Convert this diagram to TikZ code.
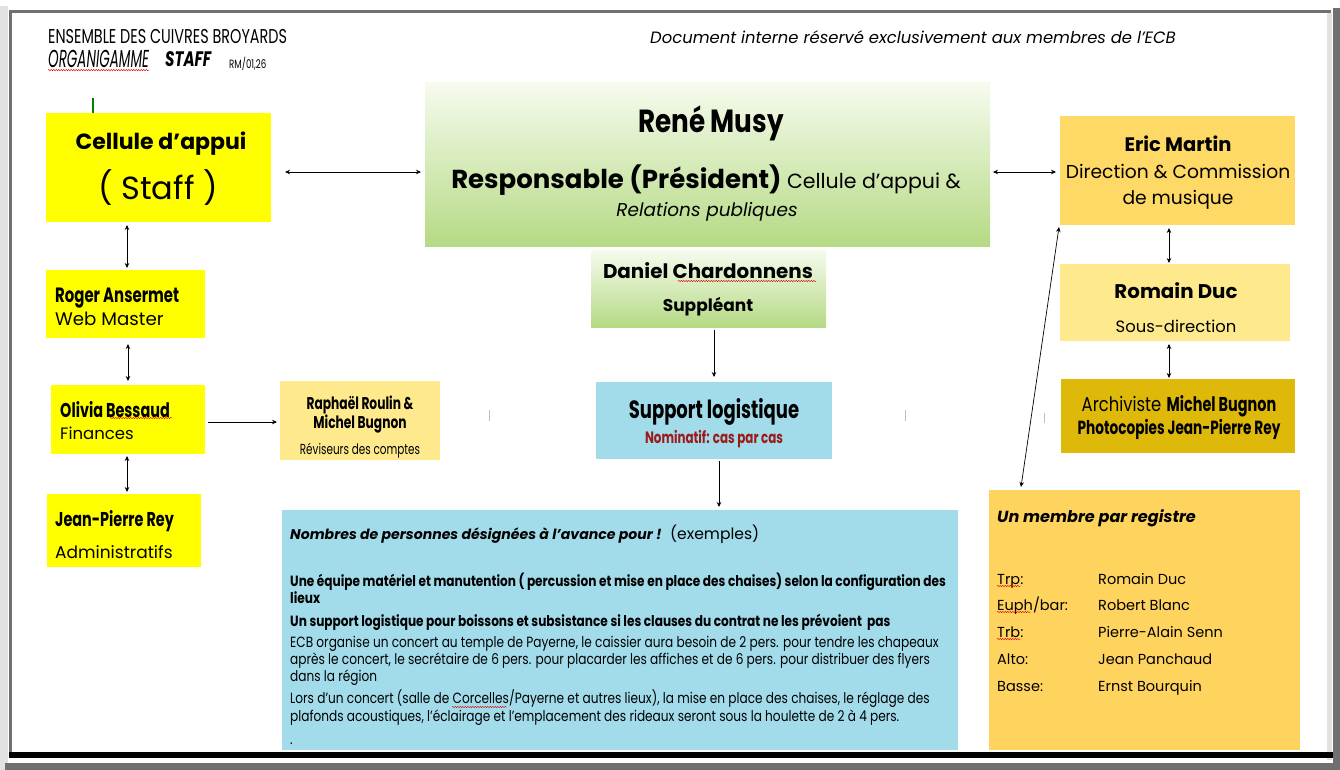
\documentclass[tikz,border=0pt]{standalone}
\usepackage{fontspec}
\setmainfont{Poppins}
\newfontfamily\condfont{Poppins}[FakeStretch=0.72]
\newfontfamily\narrowfont{Poppins}[FakeStretch=0.82]
\newfontfamily\headfont{Poppins}[FakeStretch=0.55]
\usetikzlibrary{arrows.meta,decorations.pathmorphing}
\newcommand{\fsz}[1]{\fontsize{#1}{#1}\selectfont}
\definecolor{jaune}{HTML}{FFFF00}
\definecolor{jaunepale}{HTML}{FEE98C}
\definecolor{orange}{HTML}{FFD966}
\definecolor{orangereg}{HTML}{FFD45E}
\definecolor{or}{HTML}{DFB90A}
\definecolor{bleu}{HTML}{A2DCEB}
\definecolor{vertclair}{HTML}{F6FBEE}
\definecolor{vertmoyen}{HTML}{D3EAB3}
\definecolor{vertfonce}{HTML}{B5DA84}
\definecolor{rougefonce}{HTML}{9B1B1B}
\definecolor{cadre}{HTML}{707070}
\definecolor{cadreclair}{HTML}{E2E2E2}
\begin{document}
\begin{tikzpicture}[x=1pt,y=-1pt,
	box/.style={inner sep=0pt,outer sep=0pt},
	dbl/.style={{Stealth[length=5pt,width=4.5pt]}-{Stealth[length=5pt,width=4.5pt]},line width=0.7pt},
	one/.style={-{Stealth[length=5pt,width=4.5pt]},line width=0.7pt},
	wavy/.style={draw=red!85!black,line width=0.4pt,decorate,decoration={snake,amplitude=0.7pt,segment length=2.5pt}},
	txt/.style={inner sep=0pt,anchor=mid},
	txtl/.style={inner sep=0pt,anchor=mid west}]

	\useasboundingbox (0,0) rectangle (1340,770);
	%frame
	\fill[white] (0,0) rectangle (1340,770);
	\fill[cadreclair] (0,6) rectangle (8,770);
	\fill[cadre] (9,10) rectangle (12,752);
	\fill[cadre] (9,10) rectangle (1331,13);
	\fill[cadreclair] (1327,13) rectangle (1332,760);
	\fill[cadre] (1333,8) rectangle (1340,770);
	\fill[black] (9,752) rectangle (1333,758);
	\fill[cadre] (5,763) rectangle (1340,770);

	%header
	\node[txtl,font=\condfont\fsz{20}] (ensemble) at (48,41) {ENSEMBLE DES CUIVRES BROYARDS};
	\node[txtl,font=\headfont\itshape\fsz{24.5}] (organi) at (48,65) {ORGANIGAMME};
	\node[txtl,font=\condfont\bfseries\itshape\fsz{21}] (stafftitle) at (165,63.5) {STAFF};
	\node[txtl,font=\condfont\fsz{12}] (ref) at (229,66) {RM/01,26};
	\node[txt,font=\itshape\fsz{16.4}] (interne) at (913,40.5) {Document interne réservé exclusivement aux membres de l’ECB};
	\draw[wavy] ([yshift=-2pt]organi.south west) -- ([yshift=-2pt]organi.south east);
	\draw[green!50!black,line width=1.3pt] (93,98) -- (93,113);

	%boxes
	\node[box,fill=jaune,minimum width=225pt,minimum height=109pt] (staff) at (158.5,167.5) {};
	\node[box,top color=vertclair,middle color=vertmoyen,bottom color=vertfonce,minimum width=565pt,minimum height=163pt] (musy) at (707.5,164.5) {};
	\node[box,fill=orange,minimum width=235pt,minimum height=109pt] (eric) at (1177.5,170.5) {};
	\node[box,fill=jaunepale,minimum width=230pt,minimum height=77pt] (romain) at (1175,302.5) {};
	\node[box,fill=or,minimum width=234pt,minimum height=74pt] (archiv) at (1178,416) {};
	\node[box,fill=orangereg,minimum width=311pt,minimum height=260pt] (membre) at (1144.5,620) {};
	\node[box,fill=jaune,minimum width=159pt,minimum height=68pt] (roger) at (125.5,304) {};
	\node[box,fill=jaune,minimum width=154pt,minimum height=69pt] (olivia) at (128,419.5) {};
	\node[box,fill=jaune,minimum width=154pt,minimum height=73pt] (jpr) at (124,530.5) {};
	\node[box,fill=jaunepale,minimum width=160pt,minimum height=79pt] (reviseurs) at (360,420.5) {};
	\node[box,top color=vertclair,bottom color=vertfonce,minimum width=235pt,minimum height=77pt] (daniel) at (708.5,288.5) {};
	\node[box,fill=bleu,minimum width=236pt,minimum height=77pt] (support) at (714,420.5) {};
	\node[box,fill=bleu,minimum width=676pt,minimum height=240pt] (logistique) at (620,630) {};

	%texts
	\node[txt,font=\bfseries\fsz{22}] (staff1) at (161,147) {Cellule d’appui};
	\node[txt,font=\fsz{32}] (staff2) at (158,196.5) {( Staff )};
	\node[txt,font=\narrowfont\bfseries\fsz{32}] (musy1) at (711,130) {René Musy};
	\node[txt,font=\fsz{20}] (musy2) at (706,186) {{\bfseries\fsz{26}Responsable (Président)}{\fsz{20.5} Cellule d’appui \&}};
	\node[txt,font=\itshape\fsz{18.5}] (musy3) at (707,214) {Relations publiques};
	\node[txt,font=\bfseries\fsz{19.5}] (eric1) at (1178,149) {Eric Martin};
	\node[txt,font=\fsz{18.7}] (eric2) at (1178,176) {Direction \& Commission};
	\node[txt,font=\fsz{18.7}] (eric3) at (1178,202) {de musique};
	\node[txt,font=\bfseries\fsz{19.8}] (romain1) at (1176,295.3) {Romain Duc};
	\node[txt,font=\fsz{16.4}] (romain2) at (1176,329.4) {Sous-direction};
	\node[txt,font=\fsz{20}] (archiv1) at (1179,408.4) {{\narrowfont Archiviste} {\condfont\bfseries Michel Bugnon}};
	\node[txt,font=\condfont\bfseries\fsz{19}] (archiv2) at (1179,432) {Photocopies Jean-Pierre Rey};
	\node[txtl,font=\condfont\bfseries\fsz{20.7}] (roger1) at (55,299.6) {Roger Ansermet};
	\node[txtl,font=\fsz{18.2}] (roger2) at (55,323) {Web Master};
	\node[txtl,font=\condfont\bfseries\fsz{20}] (olivia1) at (60,414.4) {Olivia Bessaud};
	\node[txtl,font=\fsz{16.5}] (olivia2) at (60,436.5) {Finances};
	\node[txtl,font=\condfont\bfseries\fsz{20}] (jpr1) at (55,523.4) {Jean-Pierre Rey};
	\node[txtl,font=\fsz{17}] (jpr2) at (55,555.6) {Administratifs};
	\node[txt,font=\condfont\bfseries\fsz{17}] (reviseurs1) at (360,406.6) {Raphaël Roulin \&};
	\node[txt,font=\condfont\bfseries\fsz{17}] (reviseurs2) at (360,425.6) {Michel Bugnon};
	\node[txt,font=\condfont\fsz{14.5}] (reviseurs3) at (360,452) {Réviseurs des comptes};
	\node[txt,font=\bfseries\fsz{19.9}] (daniel1) at (708,275.4) {Daniel Chardonnens};
	\node[txt,font=\bfseries\fsz{17}] (daniel2) at (708,308.6) {Suppléant};
	\node[txt,font=\condfont\bfseries\fsz{25}] (support1) at (714,415.8) {Support logistique};
	\node[txt,font=\condfont\bfseries\fsz{16.5},text=rougefonce] (support2) at (714,440.5) {Nominatif: cas par cas};
	\node[txtl,font=\fsz{15.6}] (logtitre) at (290,537) {{\bfseries\itshape\fsz{14.1}Nombres de personnes désignées à l’avance pour !}\ \ (exemples)};
	\foreach \y/\t [count=\i] in {584/{Une équipe matériel et manutention ( percussion et mise en place des chaises) selon la configuration des},
		601/lieux, 624/{Un support logistique pour boissons et subsistance si les clauses du contrat ne les prévoient\ \ pas}}
		\node[txtl,font=\narrowfont\bfseries\fsz{14.8}] (logb\i) at (290,\y) {\t};
	\foreach \y/\t [count=\i] in {645/{ECB organise un concert au temple de Payerne, le caissier aura besoin de 2 pers. pour tendre les chapeaux},
		662/{après le concert, le secrétaire de 6 pers. pour placarder les affiches et de 6 pers. pour distribuer des flyers},
		679/{dans la région},
		701/{Lors d’un concert (salle de Corcelles/Payerne et autres lieux), la mise en place des chaises, le réglage des},
		719/{plafonds acoustiques, l’éclairage et l’emplacement des rideaux seront sous la houlette de 2 à 4 pers.},
		742/.}
		\node[txtl,font=\narrowfont\fsz{14.8}] (logr\i) at (290,\y) {\t};
	\node[txtl,font=\bfseries\itshape\fsz{16.1}] (membre1) at (997,519.3) {Un membre par registre};
	\foreach \y/\k/\n [count=\i] in {582/Trp:/Romain Duc, 608/{Euph/bar:}/Robert Blanc, 635/Trb:/Pierre-Alain Senn, 662/Alto:/Jean Panchaud, 689/Basse:/Ernst Bourquin}{
		\node[txtl,font=\fsz{14.5}] (reg\i) at (997,\y) {\k};
		\node[txtl,font=\fsz{14.5}] (nom\i) at (1098,\y) {\n};
	}

	%spelling marks
	\draw[wavy] (678,281) -- (816,281);
	\draw[wavy] (110,418) -- (172,418);
	\draw[wavy] (452,707) -- (507,707);
	\draw[wavy] (997,586) -- (1021,586);
	\draw[wavy] (997,612) -- (1031,612);
	\draw[wavy] (997,639) -- (1021,639);
	\draw[lightgray,line width=0.8pt] (489,410) -- (489,421);
	\draw[lightgray,line width=0.8pt] (905,410) -- (905,421);
	\draw[lightgray,line width=0.8pt] (1044,413) -- (1044,423);

	%connectors
	\draw[dbl] ([xshift=14pt,yshift=-4.5pt]staff.east) -- ([xshift=-4pt,yshift=-7.5pt]musy.west);
	\draw[dbl] ([xshift=3pt,yshift=-7.5pt]musy.east) -- ([xshift=-4pt,yshift=-1.5pt]eric.west);
	\draw[dbl] ([xshift=-8.5pt,yshift=-3pt]eric.south) -- ([xshift=-6pt,yshift=1pt]romain.north);
	\draw[dbl] ([xshift=-6pt,yshift=-3pt]romain.south) -- ([xshift=-9pt,yshift=1pt]archiv.north);
	\draw[dbl] ([xshift=-1pt,yshift=-2pt]eric.south west) -- ([xshift=32pt,yshift=3pt]membre.north west);
	\draw[dbl] ([xshift=-31.5pt,yshift=-3pt]staff.south) -- ([xshift=1.5pt,yshift=2pt]roger.north);
	\draw[dbl] ([xshift=2.5pt,yshift=-6pt]roger.south) -- ([yshift=4pt]olivia.north);
	\draw[one] ([xshift=3pt,yshift=-2.5pt]olivia.east) -- ([xshift=-3pt,yshift=-1.5pt]reviseurs.west);
	\draw[dbl] ([xshift=-1pt,yshift=-2pt]olivia.south) -- ([xshift=3pt,yshift=2pt]jpr.north);
	\draw[one] ([xshift=5.5pt,yshift=-3pt]daniel.south) -- ([yshift=5pt]support.north);
	\draw[one] ([xshift=5pt,yshift=-2pt]support.south) -- ([xshift=99pt,yshift=3pt]logistique.north);
\end{tikzpicture}
\end{document}
